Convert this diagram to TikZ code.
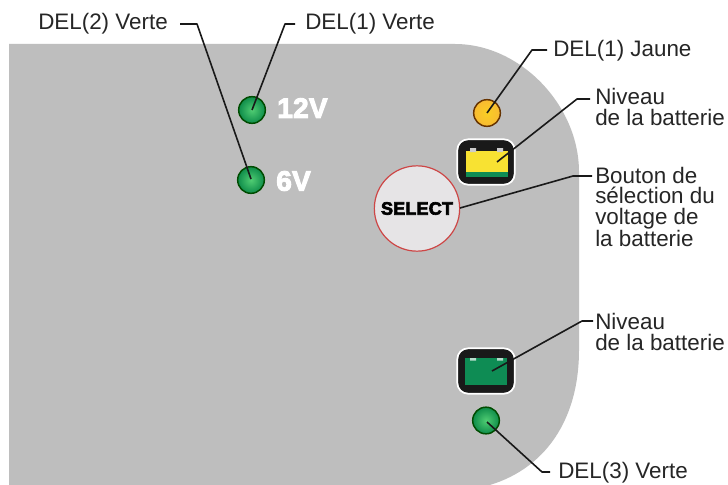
\documentclass[tikz,border=0pt]{standalone}
\usepackage{fontspec}
\setmainfont{Liberation Sans}
\newfontfamily\heavyfont[FakeBold=3.5,LetterSpace=1]{Liberation Sans Bold}
\usetikzlibrary{calc}
\definecolor{panel}{RGB}{190,190,190}
\definecolor{ledgreen}{RGB}{14,140,74}
\definecolor{ledlight}{RGB}{80,205,115}
\definecolor{ledyellow}{RGB}{248,186,50}
\definecolor{batgreen}{RGB}{14,140,84}
\definecolor{batyellow}{RGB}{248,226,50}
\definecolor{selface}{RGB}{230,228,230}
\definecolor{selring}{RGB}{205,70,70}
\tikzset{
 x=0.75pt,y=-0.75pt,
 lbl/.style={font=\fontsize{16.8}{15.2}\selectfont,text=black!85,inner sep=0pt,align=left,anchor=west},
 con/.style={draw=black!90,line width=1.2pt,line join=round},
 led/.style={circle,minimum size=20pt,inner sep=0pt,line width=1.1pt},
 gled/.style={led,draw=black!70!green,inner color=ledlight,outer color=ledgreen},
 volt/.style={font=\fontsize{21}{21}\heavyfont,text=white,inner sep=0pt,anchor=west},
 batbox/.style={draw=white,fill=black!90,rounded corners=8pt,line width=1.3pt,minimum width=43pt,minimum height=34pt,inner sep=0pt}
}
\begin{document}
\begin{tikzpicture}
\useasboundingbox (0,0) rectangle (728,485);
\fill[white] (0,0) rectangle (728,485);
\begin{scope}
\clip (0,0) rectangle (728,485);
\fill[panel] (9,44) -- (455,44) .. controls (520,44) and (579,105) .. (579,172) -- (579,350) .. controls (579,425) and (540,475) .. (478,488) -- (9,488) -- cycle;
\end{scope}
% LEDs
\node[gled] (l12) at (252,110) {};
\node[gled] (l6) at (251,180) {};
\node[led,draw=black!60!orange,inner color=ledyellow!70!yellow,outer color=ledyellow] (ly) at (487,113) {};
\node[gled] (l3) at (486,420.5) {};
\node[volt] (t12) at (277,108) {12V};
\node[volt] (t6) at (276,181) {6V};
% batteries
\node[batbox] (b1) at (486,162) {};
\fill[batyellow] (466,151) rectangle (508,172);
\fill[batgreen] (466,172) rectangle (508,177);
\fill[white!80!black] (470,148) rectangle (476,152) (497,148) rectangle (503,152);
\node[batbox] (b2) at (486,371) {};
\fill[batgreen] (465,358) rectangle (507,385);
\fill[white!70!batgreen] (470,358) rectangle (476,360.5) (497,358) rectangle (503,360.5);
% select
\node[circle,draw=selring,fill=selface,line width=0.9pt,minimum size=64pt,inner sep=0pt,font=\fontsize{13.5}{14}\heavyfont,text=black] (sel) at (417,208.5) {SELECT};
% labels
\node[lbl] (t1) at (38,24) {DEL(2) Verte};
\node[lbl] (t2) at (305,24) {DEL(1) Verte};
\node[lbl] (t3) at (553,51) {DEL(1) Jaune};
\node[lbl] (t4) at (595,107) {Niveau\\de la batterie};
\node[lbl] (t5) at (595,207) {Bouton de\\sélection du\\voltage de\\la batterie};
\node[lbl] (t6b) at (595,332) {Niveau\\de la batterie};
\node[lbl] (t7) at (558,473) {DEL(3) Verte};
% connectors
\coordinate (e1) at (252,110);
\coordinate (e2) at (251,179);
\coordinate (e3) at (487,113);
\coordinate (e4) at (497,162);
\coordinate (e5) at (460,208);
\coordinate (e6) at (492,371);
\coordinate (e7) at (487,422);
\draw[con] (180,24) -- (197,24) -- (e2);
\draw[con] (295,24) -- (285,24) -- (e1);
\draw[con] (547,50) -- (532,50) -- (e3);
\draw[con] (590,99) -- (577,99) -- (e4);
\draw[con] (592,176) -- (573,176) -- (e5);
\draw[con] (593,321) -- (582,321) -- (e6);
\draw[con] (550,472) -- (542,472) -- (e7);
\end{tikzpicture}
\end{document}
